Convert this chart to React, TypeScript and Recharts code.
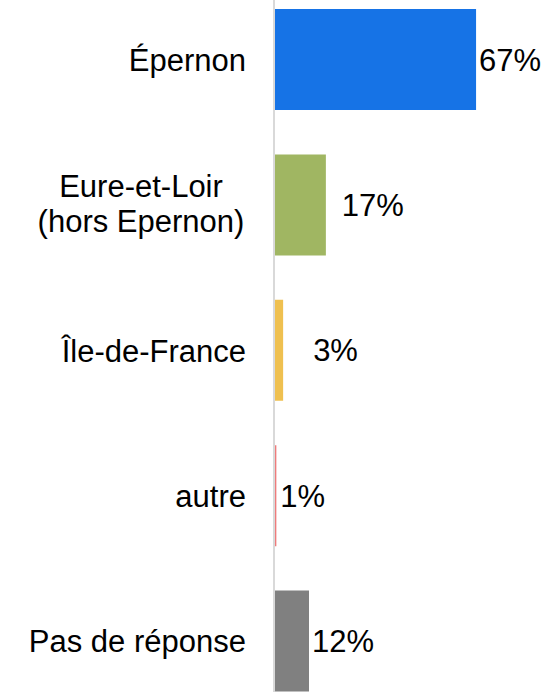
import { BarChart, Bar, XAxis, YAxis, Cell, LabelList } from "recharts";

// catégories (une ligne par entrée, "\n" = retour à la ligne)
const categories = ["Épernon", "Eure-et-Loir\n(hors Epernon)", "Île-de-France", "autre", "Pas de réponse"];
const values = [66.8, 16.9, 2.7, 0.45, 11.3];
const valueLabels = ["67%", "17%", "3%", "1%", "12%"];

const COLORS = ["#1673e6", "#a0b662", "#efc050", "#ee7b7b", "#808080"];
// décalage du texte de valeur après la barre
const LABEL_GAP = [3, 16, 30, 4, 3];
const FONT = "'Liberation Sans', Arial, sans-serif";
const TICK_RIGHT = 246;

const data = categories.map((c, i) => ({ name: c, value: values[i], label: valueLabels[i] }));

function CategoryTick(props: any) {
  const { y, payload } = props;
  const lines = String(payload.value).split("\n");
  if (lines.length === 1) {
    return (
      <text x={TICK_RIGHT} y={y} dy={11} textAnchor="end" fontSize={31} fontFamily={FONT} fill="#000">
        {lines[0]}
      </text>
    );
  }
  // bloc multi-ligne centré, la ligne la plus longue touche le bord droit
  const cx = 141;
  return (
    <text x={cx} y={y} textAnchor="middle" fontSize={31} fontFamily={FONT} fill="#000">
      <tspan x={cx} dy={-8}>{lines[0]}</tspan>
      <tspan x={cx} dy={35}>{lines[1]}</tspan>
    </text>
  );
}

function ValueLabel(props: any) {
  const { x, y, width, height, index } = props;
  return (
    <text
      x={Number(x) + Number(width) + LABEL_GAP[index]}
      y={Number(y) + Number(height) / 2}
      dy={11}
      textAnchor="start"
      fontSize={31}
      fontFamily={FONT}
      fill="#000"
    >
      {valueLabels[index]}
    </text>
  );
}

export default function App() {
  return (
    <div style={{ position: "absolute", left: 0, top: 0, width: 548, height: 692, overflow: "hidden", background: "#fff" }}>
      <div style={{ position: "absolute", left: 0, top: -13 }}>
        <BarChart
          width={576}
          height={727}
          data={data}
          layout="vertical"
          margin={{ top: 0, right: 0, bottom: 0, left: 0 }}
          barSize={101}
        >
          <XAxis type="number" domain={[0, 100]} hide />
          <YAxis
            type="category"
            dataKey="name"
            width={275}
            tickLine={false}
            axisLine={{ stroke: "#d9d9d9", strokeWidth: 2, transform: "translate(-1,0)" }}
            tick={<CategoryTick />}
            interval={0}
          />
          <Bar dataKey="value" isAnimationActive={false}>
            {data.map((_, i) => (
              <Cell key={i} fill={COLORS[i]} />
            ))}
            <LabelList dataKey="label" content={<ValueLabel />} />
          </Bar>
        </BarChart>
      </div>
    </div>
  );
}
